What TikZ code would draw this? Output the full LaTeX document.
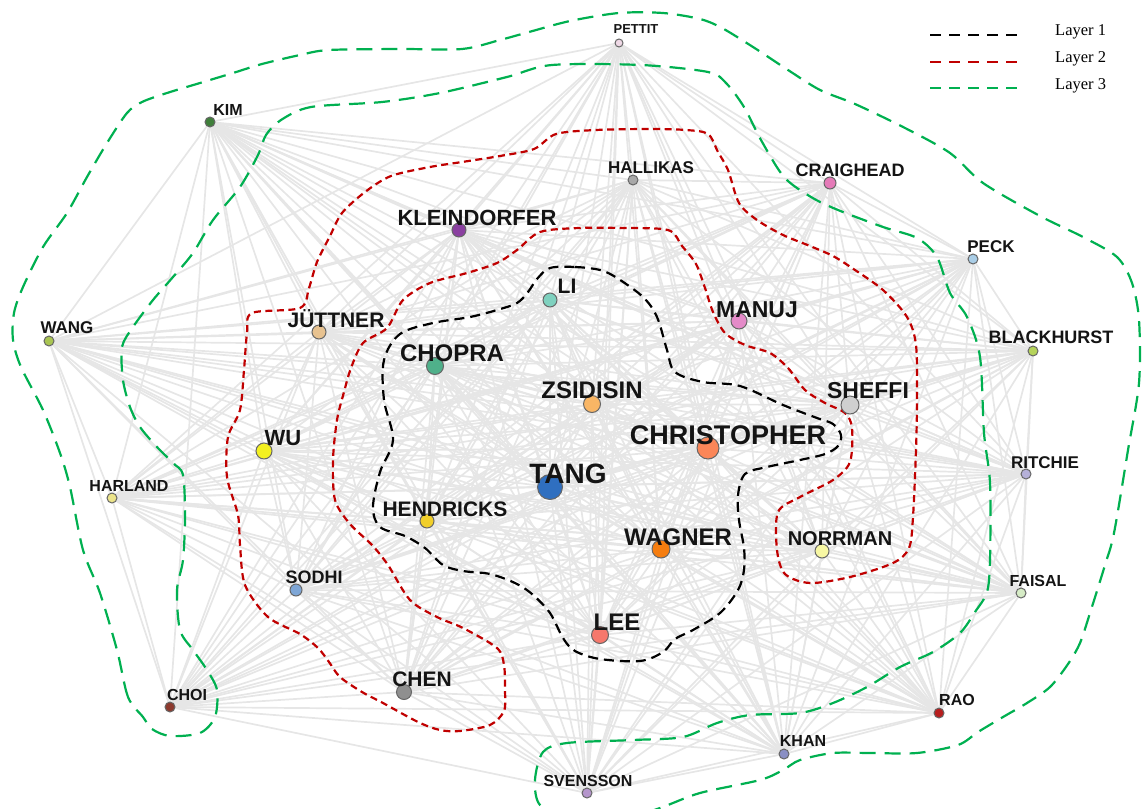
\documentclass[tikz,border=0pt]{standalone}
\usepackage{fontspec}
\setmainfont{Liberation Serif}
\setsansfont{Liberation Sans}
\newcommand\lf[1]{\sffamily\bfseries\fontsize{#1}{#1}\selectfont}
\definecolor{cpettit}{HTML}{EFD9E6}
\definecolor{ckim}{HTML}{3F7F3A}
\definecolor{challikas}{HTML}{A8A8A8}
\definecolor{ccraighead}{HTML}{E57AB8}
\definecolor{ckleindorfer}{HTML}{8A3FA0}
\definecolor{cpeck}{HTML}{A9CDE6}
\definecolor{cli}{HTML}{7FD1BF}
\definecolor{cmanuj}{HTML}{E48AC8}
\definecolor{cwang}{HTML}{A9C552}
\definecolor{cjuttner}{HTML}{E7C290}
\definecolor{cblackhurst}{HTML}{B5D35A}
\definecolor{cchopra}{HTML}{4FB08A}
\definecolor{czsidisin}{HTML}{F9B665}
\definecolor{csheffi}{HTML}{CFCFCF}
\definecolor{cchristopher}{HTML}{FB8658}
\definecolor{cwu}{HTML}{F3F020}
\definecolor{critchie}{HTML}{B5B0D8}
\definecolor{ctang}{HTML}{2F6FC0}
\definecolor{charland}{HTML}{ECE48A}
\definecolor{chendricks}{HTML}{F1CF2A}
\definecolor{cnorrman}{HTML}{F7F7A3}
\definecolor{cwagner}{HTML}{F57D0F}
\definecolor{cfaisal}{HTML}{D6ECC6}
\definecolor{csodhi}{HTML}{7EA6D6}
\definecolor{clee}{HTML}{F6786C}
\definecolor{cchen}{HTML}{8F8F8F}
\definecolor{cchoi}{HTML}{8D3A2E}
\definecolor{crao}{HTML}{B81E1E}
\definecolor{ckhan}{HTML}{8A8FC4}
\definecolor{csvensson}{HTML}{B596CC}
\definecolor{layred}{HTML}{C00000}
\definecolor{laygreen}{HTML}{00B050}
\definecolor{edgegray}{HTML}{E6E6E6}
\pgfdeclarelayer{edges}
\pgfdeclarelayer{contours}
\pgfsetlayers{edges,contours,main}
\begin{document}
\begin{tikzpicture}[x=1pt,y=-1pt,
  pt/.style={circle, draw=black!60, line width=1pt, inner sep=0pt},
  lbl/.style={anchor=base, inner sep=0pt, text=black!92},
  edge/.style={draw=edgegray, line width=1.7pt},
  layone/.style={draw=black, line width=2.2pt, dash pattern=on 10pt off 6pt},
  laytwo/.style={draw=layred, line width=2.2pt, dash pattern=on 7pt off 4.5pt},
  laythree/.style={draw=laygreen, line width=2.2pt, dash pattern=on 16pt off 9pt},
  legline/.style={line width=2.5pt, dash pattern=on 11pt off 8pt},
  legtext/.style={anchor=base west, inner sep=0pt, font=\fontsize{16.5}{16.5}\selectfont}]
\useasboundingbox (0,0) rectangle (1142,808);
% nodes
\node[pt, fill=cpettit, minimum size=8pt] (pettit) at (619,43) {};
\node[pt, fill=ckim, minimum size=10pt] (kim) at (210,122) {};
\node[pt, fill=challikas, minimum size=10pt] (hallikas) at (633,180) {};
\node[pt, fill=ccraighead, minimum size=12pt] (craighead) at (830,183) {};
\node[pt, fill=ckleindorfer, minimum size=14pt] (kleindorfer) at (459,230) {};
\node[pt, fill=cpeck, minimum size=10pt] (peck) at (973,259) {};
\node[pt, fill=cli, minimum size=14pt] (li) at (550,300) {};
\node[pt, fill=cmanuj, minimum size=16pt] (manuj) at (739,321) {};
\node[pt, fill=cwang, minimum size=10pt] (wang) at (49,341) {};
\node[pt, fill=cjuttner, minimum size=14pt] (juttner) at (319,332) {};
\node[pt, fill=cblackhurst, minimum size=10pt] (blackhurst) at (1033,351) {};
\node[pt, fill=cchopra, minimum size=17pt] (chopra) at (435,366) {};
\node[pt, fill=czsidisin, minimum size=17pt] (zsidisin) at (592,404) {};
\node[pt, fill=csheffi, minimum size=18pt] (sheffi) at (850,405) {};
\node[pt, fill=cchristopher, minimum size=22pt] (christopher) at (708,448) {};
\node[pt, fill=cwu, minimum size=16pt] (wu) at (264,451) {};
\node[pt, fill=critchie, minimum size=10pt] (ritchie) at (1026,474) {};
\node[pt, fill=ctang, minimum size=25pt] (tang) at (550,487) {};
\node[pt, fill=charland, minimum size=10pt] (harland) at (112,498) {};
\node[pt, fill=chendricks, minimum size=14pt] (hendricks) at (427,521) {};
\node[pt, fill=cnorrman, minimum size=14pt] (norrman) at (822,551) {};
\node[pt, fill=cwagner, minimum size=18pt] (wagner) at (661,549) {};
\node[pt, fill=cfaisal, minimum size=10pt] (faisal) at (1021,593) {};
\node[pt, fill=csodhi, minimum size=12pt] (sodhi) at (296,590) {};
\node[pt, fill=clee, minimum size=17pt] (lee) at (600,635) {};
\node[pt, fill=cchen, minimum size=15pt] (chen) at (404,692) {};
\node[pt, fill=cchoi, minimum size=10pt] (choi) at (170,707) {};
\node[pt, fill=crao, minimum size=10pt] (rao) at (939,713) {};
\node[pt, fill=ckhan, minimum size=10pt] (khan) at (784,754) {};
\node[pt, fill=csvensson, minimum size=10pt] (svensson) at (587,793) {};
% labels
\node[lbl, font=\lf{13}] (pettit-l) at (636,34) {PETTIT};
\node[lbl, font=\lf{16}] (kim-l) at (228,115) {KIM};
\node[lbl, font=\lf{17}] (hallikas-l) at (651,173) {HALLIKAS};
\node[lbl, font=\lf{18}] (craighead-l) at (850,176) {CRAIGHEAD};
\node[lbl, font=\lf{22}] (kleindorfer-l) at (477,225) {KLEINDORFER};
\node[lbl, font=\lf{17}] (peck-l) at (991,252) {PECK};
\node[lbl, font=\lf{21}] (li-l) at (567,293) {LI};
\node[lbl, font=\lf{23}] (manuj-l) at (757,317) {MANUJ};
\node[lbl, font=\lf{17}] (wang-l) at (67,333) {WANG};
\node[lbl, font=\lf{21}] (juttner-l) at (336,327) {JÜTTNER};
\node[lbl, font=\lf{18}] (blackhurst-l) at (1051,343) {BLACKHURST};
\node[lbl, font=\lf{24}] (chopra-l) at (452,361) {CHOPRA};
\node[lbl, font=\lf{24}] (zsidisin-l) at (592,398) {ZSIDISIN};
\node[lbl, font=\lf{23}] (sheffi-l) at (868,398) {SHEFFI};
\node[lbl, font=\lf{27}] (christopher-l) at (728,444) {CHRISTOPHER};
\node[lbl, font=\lf{22}] (wu-l) at (283,445) {WU};
\node[lbl, font=\lf{17}] (ritchie-l) at (1045,468) {RITCHIE};
\node[lbl, font=\lf{28}] (tang-l) at (568,483) {TANG};
\node[lbl, font=\lf{16}] (harland-l) at (129,491) {HARLAND};
\node[lbl, font=\lf{21}] (hendricks-l) at (445,516) {HENDRICKS};
\node[lbl, font=\lf{20}] (norrman-l) at (840,545) {NORRMAN};
\node[lbl, font=\lf{24}] (wagner-l) at (678,545) {WAGNER};
\node[lbl, font=\lf{16}] (faisal-l) at (1038,586) {FAISAL};
\node[lbl, font=\lf{18}] (sodhi-l) at (314,583) {SODHI};
\node[lbl, font=\lf{24}] (lee-l) at (617,630) {LEE};
\node[lbl, font=\lf{21}] (chen-l) at (422,686) {CHEN};
\node[lbl, font=\lf{16}] (choi-l) at (187,700) {CHOI};
\node[lbl, font=\lf{16}] (rao-l) at (957,705) {RAO};
\node[lbl, font=\lf{16}] (khan-l) at (803,746) {KHAN};
\node[lbl, font=\lf{16}] (svensson-l) at (588,786) {SVENSSON};
% edges
\begin{pgfonlayer}{edges}
\foreach \a [count=\i] in {pettit,kim,hallikas,craighead,kleindorfer,peck,li,manuj,wang,juttner,blackhurst,chopra,zsidisin,sheffi,christopher,wu,ritchie,tang,harland,hendricks,norrman,wagner,faisal,sodhi,lee,chen,choi,rao,khan,svensson}{
  \foreach \b [count=\j] in {pettit,kim,hallikas,craighead,kleindorfer,peck,li,manuj,wang,juttner,blackhurst,chopra,zsidisin,sheffi,christopher,wu,ritchie,tang,harland,hendricks,norrman,wagner,faisal,sodhi,lee,chen,choi,rao,khan,svensson}{
    \ifnum\i<\j \draw[edge] (\a) -- (\b); \fi
  }
}
\end{pgfonlayer}
% contours
\begin{pgfonlayer}{contours}
\begin{scope}
\clip (0,0) rectangle (1142,808);
\draw[layone] plot[smooth cycle, tension=0.55] coordinates {
 (550,268) (575,267) (600,270) (617,278) (643,297) (657,317) (667,350) (675,372) (703,382) (740,386)
 (783,405) (817,418) (833,424) (841,435) (838,446) (825,454) (800,460) (767,467) (745,474) (738,495)
 (739,520) (744,548) (744,570) (738,590) (720,613) (693,630) (675,639) (663,652) (640,661) (600,659)
 (575,651) (563,638) (550,613) (532,594) (515,583) (490,574) (463,571) (443,565) (425,548) (405,536)
 (380,527) (373,507) (380,472) (393,440) (384,400) (384,360) (400,334) (433,323) (470,317) (497,310)
 (517,303) (528,292) (537,279)};
\draw[laytwo] plot[smooth cycle, tension=0.5] coordinates {
 (300,308) (309,288) (317,262) (330,236) (342,213) (365,192) (391,176) (430,167) (462,162) (500,156)
 (534,149) (556,134) (596,130) (650,129) (686,130) (708,134) (718,152) (728,170) (739,203) (757,220)
 (783,235) (810,246) (833,256) (852,268) (883,290) (907,317) (916,345) (917,400) (916,450) (913,517)
 (909,548) (893,563) (850,577) (810,583) (785,574) (777,550) (778,512) (800,497) (833,480) (850,462)
 (852,428) (845,413) (825,403) (805,390) (788,368) (770,353) (745,345) (725,333) (713,312) (705,288)
 (696,264) (682,246) (668,230) (620,228) (579,228) (540,232) (517,250) (497,263) (467,273) (430,283)
 (403,300) (387,328) (363,343) (351,368) (344,392) (337,420) (333,460) (335,500) (350,524) (372,545)
 (388,565) (410,600) (437,617) (463,628) (497,648) (504,665) (505,690) (504,711) (490,725) (460,731)
 (440,730) (418,722) (383,703) (362,692) (340,677) (329,662) (318,648) (300,634) (268,617) (245,585)
 (240,545) (238,515) (227,477) (228,437) (240,410) (244,370) (247,333) (252,313)};
\draw[laythree] plot[smooth cycle, tension=0.5] coordinates {
 (143,717) (128,697) (117,650) (100,593) (83,550) (70,487) (60,453) (43,410) (21,367) (13,340)
 (14,313) (23,287) (43,247) (67,213) (87,177) (107,143) (127,113) (142,102) (167,93) (200,83)
 (233,73) (262,64) (300,55) (329,50) (400,49) (462,49) (500,40) (529,32) (570,21) (619,13)
 (663,13) (700,19) (722,28) (753,47) (788,70) (820,90) (855,104) (905,128) (950,153) (983,183)
 (1040,216) (1083,237) (1117,257) (1132,283) (1139,320) (1139,383) (1128,450) (1114,533) (1105,565)
 (1090,613) (1080,643) (1068,664) (1050,687) (1027,703) (1003,717) (978,732) (958,745) (917,753)
 (870,753) (833,753) (800,760) (783,770) (760,780) (700,793) (660,808) (620,820) (570,818)
 (540,805) (535,780) (543,752) (567,743) (633,740) (683,737) (717,723) (750,715) (800,713)
 (833,703) (867,687) (900,667) (933,652) (960,633) (975,612) (987,592) (990,560) (990,483)
 (984,433) (980,357) (967,317) (950,293) (937,257) (917,238) (883,227) (838,210) (811,197)
 (784,177) (761,140) (744,107) (726,83) (708,72) (641,65) (552,65) (507,77) (440,93) (382,102)
 (311,107) (281,120) (266,135) (258,155) (240,187) (213,220) (193,253) (173,277) (153,300)
 (133,327) (122,347) (123,380) (130,407) (140,427) (157,447) (173,463) (183,475) (185,517)
 (183,560) (177,590) (180,630) (193,650) (207,670) (217,690) (215,717) (200,733) (170,736)
 (152,729)};
\end{scope}
\end{pgfonlayer}
% legend
\coordinate (l1a) at (930,35); \coordinate (l1b) at (1017,35);
\coordinate (l2a) at (930,62); \coordinate (l2b) at (1017,62);
\coordinate (l3a) at (930,88); \coordinate (l3b) at (1017,88);
\draw[legline, draw=black] (l1a) -- (l1b);
\draw[legline, draw=layred] (l2a) -- (l2b);
\draw[legline, draw=laygreen] (l3a) -- (l3b);
\node[legtext] (t1) at (1055,36) {Layer 1};
\node[legtext] (t2) at (1055,63) {Layer 2};
\node[legtext] (t3) at (1055,89) {Layer 3};
\end{tikzpicture}
\end{document}
